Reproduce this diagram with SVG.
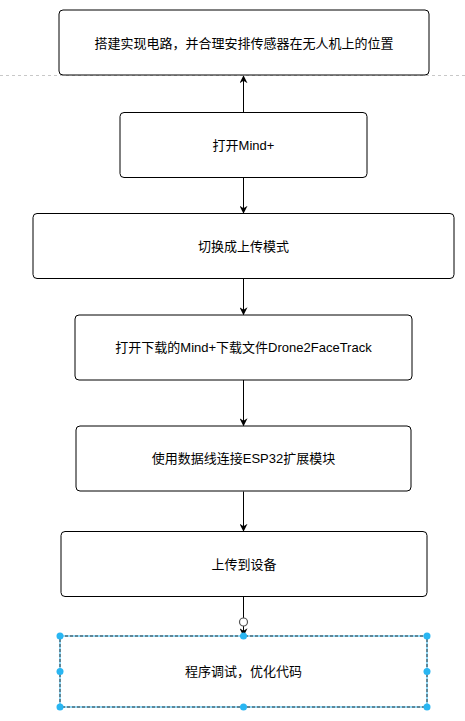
<svg xmlns="http://www.w3.org/2000/svg" width="465" height="721" viewBox="0 0 465 721">
<defs>
<style>
.box{fill:#fff;stroke:#000;stroke-width:1}
.t{font-family:"Liberation Sans","Noto Sans CJK SC",sans-serif;font-size:13px;fill:#000;text-anchor:middle;dominant-baseline:central}
.c{stroke:#000;stroke-width:1;fill:none;marker-end:url(#arr)}
.h{fill:#29b6f2}
</style>
<marker id="arr" viewBox="0 0 10 10" refX="9" refY="5" markerWidth="8" markerHeight="8" markerUnits="userSpaceOnUse" orient="auto">
<path d="M0,0 L10,5 L0,10 L3,5 Z" fill="#000"/>
</marker>
</defs>
<rect width="465" height="721" fill="#fff"/>
<line x1="0" y1="75.5" x2="465" y2="75.5" stroke="#c8c8c8" stroke-width="1" stroke-dasharray="3,3"/>
<g id="connectors">
<line class="c" x1="243.5" y1="112" x2="243.5" y2="76"/>
<line class="c" x1="243.5" y1="177.5" x2="243.5" y2="213"/>
<line class="c" x1="243.5" y1="279" x2="243.5" y2="314.5"/>
<line class="c" x1="243.5" y1="380" x2="243.5" y2="425.5"/>
<line class="c" x1="243.5" y1="491.5" x2="243.5" y2="531"/>
<line class="c" x1="243.5" y1="597" x2="243.5" y2="635.5"/>
</g>
<g id="n1"><rect class="box" x="59" y="10" width="370" height="65" rx="4"/><text class="t" x="244" y="43">搭建实现电路，并合理安排传感器在无人机上的位置</text></g>
<g id="n2"><rect class="box" x="120" y="112.5" width="247" height="65" rx="4"/><text class="t" x="243.5" y="145">打开Mind+</text></g>
<g id="n3"><rect class="box" x="33" y="213.5" width="421" height="65" rx="4"/><text class="t" x="243.5" y="246">切换成上传模式</text></g>
<g id="n4"><rect class="box" x="75" y="315" width="337" height="65" rx="4"/><text class="t" x="243.5" y="347.5">打开下载的Mind+下载文件Drone2FaceTrack</text></g>
<g id="n5"><rect class="box" x="76" y="426" width="335" height="65" rx="4"/><text class="t" x="243.5" y="458.5">使用数据线连接ESP32扩展模块</text></g>
<g id="n6"><rect class="box" x="61" y="531.5" width="366" height="65" rx="4"/><text class="t" x="244" y="564">上传到设备</text></g>
<g id="n7">
<rect x="60" y="636" width="367" height="71" fill="#fff" stroke="#29b6f2" stroke-width="1"/>
<rect x="60" y="636" width="367" height="71" fill="none" stroke="#333" stroke-width="1" stroke-dasharray="3,2"/>
<text class="t" x="243.5" y="671.5">程序调试，优化代码</text>
<circle class="h" cx="60" cy="636" r="3.5"/><circle class="h" cx="243.5" cy="636" r="3.5"/><circle class="h" cx="427" cy="636" r="3.5"/>
<circle class="h" cx="60" cy="671.5" r="3.5"/><circle class="h" cx="427" cy="671.5" r="3.5"/>
<circle class="h" cx="60" cy="707" r="3.5"/><circle class="h" cx="243.5" cy="707" r="3.5"/><circle class="h" cx="427" cy="707" r="3.5"/>
</g>
<circle cx="243.5" cy="622" r="4" fill="#fff" stroke="#555" stroke-width="1.2"/>
</svg>
